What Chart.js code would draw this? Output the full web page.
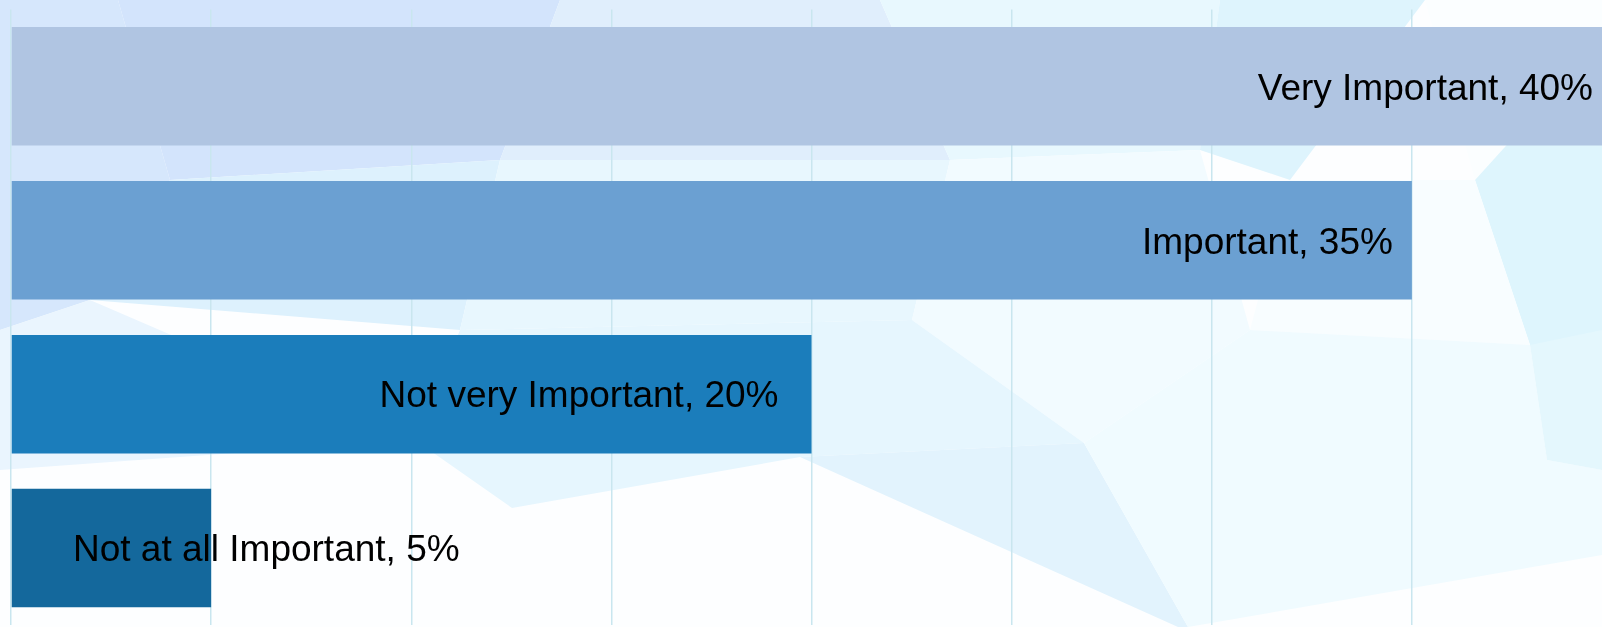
<!DOCTYPE html>
<html>
<head>
<meta charset="utf-8">
<script src="https://cdn.jsdelivr.net/npm/chart.js@4/dist/chart.umd.min.js"></script>
<style>
  html, body { margin: 0; padding: 0; overflow: hidden; background: #fdfeff; }
  #wrap { position: relative; width: 1602px; height: 627px; overflow: hidden; }
  #bg { position: absolute; left: 0; top: 0; }
  #chartBox { position: absolute; left: 0; top: 0; width: 1612px; height: 627px; }
</style>
</head>
<body>
<div id="wrap">
  <svg id="bg" width="1602" height="627" xmlns="http://www.w3.org/2000/svg"></svg>
  <div id="chartBox"><canvas id="chart"></canvas></div>
</div>
<script>
// ---------------------
// DATA
// ---------------------
const categories = ['Very Important', 'Important', 'Not very Important', 'Not at all Important'];
const shares = [40, 35, 20, 5];
const axisTicks = [0, 5, 10, 15, 20, 25, 30, 35, 40];

// styling
const barColors = ['#b0c5e2', '#6ba0d2', '#1b7dbb', '#14689c'];
const labelPad = [19, 19, 33, 19];
const labelFont = "37px 'Liberation Sans', Arial, sans-serif";

// ---------------------
// BACKGROUND (low-poly decoration)
// ---------------------
const bgPolys = [
  ['0,0 118,0 170,180 90,300 0,330', '#d6e7fc'],
  ['118,0 560,0 500,160 170,180', '#d3e4fc'],
  ['170,180 500,160 460,330 90,300', '#ddf1fd'],
  ['0,330 90,300 415,440 0,470', '#eaf5fe'],
  ['560,0 880,0 950,160 640,180 500,160', '#e0eefc'],
  ['880,0 1220,0 1200,150 950,160', '#e8f8fe'],
  ['1220,0 1425,0 1290,180 1200,150', '#def4fd'],
  ['1425,0 1602,0 1602,40 1475,180', '#fbfeff'],
  ['1475,180 1602,40 1602,345 1530,345', '#def5fd'],
  ['1290,180 1475,180 1530,345 1250,330', '#f8fdff'],
  ['500,160 950,160 912,320 460,330', '#e8f7fe'],
  ['950,160 1200,150 1250,330 1084,443 912,320', '#f2fbff'],
  ['460,330 912,320 1084,443 800,457 512,508 415,440', '#e6f6fe'],
  ['800,457 1084,443 1188,627 1178,627', '#e2f3fd'],
  ['1084,443 1250,330 1530,345 1547,460 1602,470 1602,555 1188,627', '#f0fbff'],
  ['1530,345 1602,330 1602,470 1547,460', '#e4f7fd']
];
const svg = document.getElementById('bg');
svg.innerHTML = bgPolys.map(([p, c]) => `<polygon points="${p}" fill="${c}"/>`).join('');

// ---------------------
// LABELS PLUGIN
// ---------------------
const barLabels = {
  id: 'barLabels',
  afterDatasetsDraw(chart) {
    const { ctx, chartArea } = chart;
    const meta = chart.getDatasetMeta(0);
    ctx.save();
    ctx.font = labelFont;
    ctx.fillStyle = '#000';
    ctx.textBaseline = 'alphabetic';
    ctx.textAlign = 'left';
    meta.data.forEach((bar, i) => {
      const text = `${categories[i]}, ${shares[i]}%`;
      const w = ctx.measureText(text).width;
      let x = bar.x - labelPad[i] - w;
      x = Math.max(x, chartArea.left + 62);
      ctx.fillText(text, x, bar.y + 13.3);
    });
    ctx.restore();
  }
};

// ---------------------
// CHART
// ---------------------
new Chart(document.getElementById('chart'), {
  type: 'bar',
  data: {
    labels: categories,
    datasets: [{
      data: shares,
      backgroundColor: barColors,
      borderWidth: 0,
      barPercentage: 1,
      categoryPercentage: 0.77
    }]
  },
  options: {
    indexAxis: 'y',
    responsive: true,
    maintainAspectRatio: false,
    animation: false,
    layout: { padding: { left: 11, top: 9.4, right: 0, bottom: 2 } },
    plugins: {
      legend: { display: false },
      tooltip: { enabled: false }
    },
    scales: {
      x: {
        min: axisTicks[0],
        max: axisTicks[axisTicks.length - 1],
        afterBuildTicks: (scale) => { scale.ticks = axisTicks.map(v => ({ value: v })); },
        ticks: { display: false },
        grid: { color: '#c9e6ef', lineWidth: 1.5, drawTicks: false },
        border: { display: false }
      },
      y: { display: false }
    }
  },
  plugins: [barLabels]
});
</script>
</body>
</html>
